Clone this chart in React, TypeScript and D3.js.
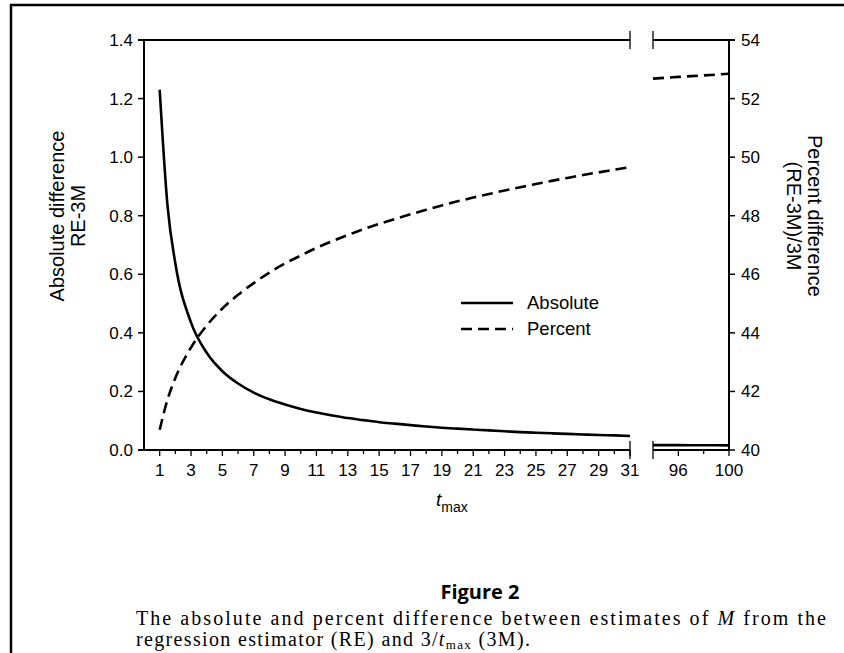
import React from "react";
import * as d3 from "d3";

// ---- data ----
const tmaxLeft = [1, 1.5, 2, 3, 4, 5, 6, 7, 8, 9, 10, 11, 12, 13, 14, 15, 16, 17, 18, 19, 20, 21, 22, 23, 24, 25, 26, 27, 28, 29, 30, 31];
const absLeft = [1.23, 0.834, 0.637, 0.435, 0.332, 0.269, 0.227, 0.196, 0.173, 0.155, 0.14, 0.128, 0.118, 0.109, 0.102, 0.095, 0.09, 0.085, 0.08, 0.076, 0.073, 0.07, 0.067, 0.064, 0.061, 0.059, 0.057, 0.055, 0.053, 0.051, 0.05, 0.048];
const pctLeft = [40.69, 41.72, 42.46, 43.5, 44.25, 44.83, 45.3, 45.7, 46.06, 46.37, 46.64, 46.9, 47.13, 47.34, 47.54, 47.72, 47.89, 48.05, 48.2, 48.35, 48.49, 48.62, 48.74, 48.86, 48.97, 49.08, 49.19, 49.29, 49.39, 49.48, 49.57, 49.66];
const tmaxRight = [94, 96, 98, 100];
const absRight = [0.0168, 0.0165, 0.0162, 0.0159];
const pctRight = [52.68, 52.74, 52.79, 52.85];

const xTicksLeft = [1, 2, 3, 4, 5, 6, 7, 8, 9, 10, 11, 12, 13, 14, 15, 16, 17, 18, 19, 20, 21, 22, 23, 24, 25, 26, 27, 28, 29, 30, 31];
const xLabelsLeft = [1, 3, 5, 7, 9, 11, 13, 15, 17, 19, 21, 23, 25, 27, 29, 31];
const xTicksRight = [96, 98, 100];
const xLabelsRight = [96, 100];
const yLeftTicks = [0, 0.2, 0.4, 0.6, 0.8, 1.0, 1.2, 1.4];
const yRightTicks = [40, 42, 44, 46, 48, 50, 52, 54];

const W = 844;
const H = 653;
const L = 144, R = 729, T = 40, B = 450;
const BREAK1 = 630, BREAK2 = 653;

const sans = "'Liberation Sans', Arial, Helvetica, sans-serif";
const serif = "'Liberation Serif', 'DejaVu Serif', serif";
const TICK_FS = 17;

export default function App() {
  const xL = d3.scaleLinear().domain([0, 31]).range([L, BREAK1]);
  const xR = d3.scaleLinear().domain([94, 100]).range([BREAK2, R]);
  const yL = d3.scaleLinear().domain([0, 1.4]).range([B, T]);
  const yR = d3.scaleLinear().domain([40, 54]).range([B, T]);

  const lineAbsL = d3.line<number>().x((_, i) => xL(tmaxLeft[i])).y((d) => yL(d)).curve(d3.curveMonotoneX);
  const linePctL = d3.line<number>().x((_, i) => xL(tmaxLeft[i])).y((d) => yR(d)).curve(d3.curveMonotoneX);
  const lineAbsR = d3.line<number>().x((_, i) => xR(tmaxRight[i])).y((d) => yL(d)).curve(d3.curveMonotoneX);
  const linePctR = d3.line<number>().x((_, i) => xR(tmaxRight[i])).y((d) => yR(d)).curve(d3.curveMonotoneX);

  const ax = { stroke: "#000", strokeWidth: 2, fill: "none" } as const;
  const dash = "11 6";

  return (
    <svg width={W} height={H} style={{ position: "absolute", left: 0, top: 0, background: "#fff" }}>
      {/* frame */}
      <path d={`M11,${H} L11,5 L${W},5`} stroke="#000" strokeWidth={2.5} fill="none" />

      {/* axes */}
      <line x1={L} y1={T} x2={L} y2={B} {...ax} />
      <line x1={R} y1={T} x2={R} y2={B} {...ax} />
      <line x1={L - 6} y1={B} x2={BREAK1} y2={B} {...ax} />
      <line x1={BREAK2} y1={B} x2={R} y2={B} {...ax} />
      <line x1={L - 6} y1={T} x2={BREAK1} y2={T} {...ax} />
      <line x1={BREAK2} y1={T} x2={R + 6} y2={T} {...ax} />
      {[BREAK1, BREAK2].map((bx) => (
        <g key={bx}>
          <line x1={bx} y1={T - 9} x2={bx} y2={T + 9} stroke="#000" strokeWidth={1.3} />
          <line x1={bx} y1={B - 9} x2={bx} y2={B + 9} stroke="#000" strokeWidth={1.3} />
        </g>
      ))}

      {/* left y ticks */}
      {yLeftTicks.map((v) => (
        <g key={"yl" + v}>
          <line x1={L - 6} x2={L} y1={yL(v)} y2={yL(v)} stroke="#000" strokeWidth={1.5} />
          <text x={L - 11} y={yL(v)} dy="0.35em" textAnchor="end" fontFamily={sans} fontSize={TICK_FS}>
            {v.toFixed(1)}
          </text>
        </g>
      ))}
      {/* right y ticks */}
      {yRightTicks.map((v) => (
        <g key={"yr" + v}>
          <line x1={R} x2={R + 6} y1={yR(v)} y2={yR(v)} stroke="#000" strokeWidth={1.5} />
          <text x={R + 12} y={yR(v)} dy="0.35em" textAnchor="start" fontFamily={sans} fontSize={TICK_FS}>
            {v}
          </text>
        </g>
      ))}
      {/* x ticks */}
      {xTicksLeft.map((v) => (
        <line key={"xt" + v} x1={xL(v)} x2={xL(v)} y1={B} y2={B + (v % 2 === 1 ? 6 : 4)} stroke="#000" strokeWidth={1.3} />
      ))}
      {xTicksRight.map((v) => (
        <line key={"xtr" + v} x1={xR(v)} x2={xR(v)} y1={B} y2={B + (v % 4 === 0 ? 6 : 4)} stroke="#000" strokeWidth={1.3} />
      ))}
      {xLabelsLeft.map((v) => (
        <text key={"xl" + v} x={xL(v)} y={476} textAnchor="middle" fontFamily={sans} fontSize={TICK_FS}>
          {v}
        </text>
      ))}
      {xLabelsRight.map((v) => (
        <text key={"xlr" + v} x={xR(v)} y={476} textAnchor="middle" fontFamily={sans} fontSize={TICK_FS}>
          {v}
        </text>
      ))}

      {/* series */}
      <path d={lineAbsL(absLeft) || ""} stroke="#000" strokeWidth={2.6} fill="none" />
      <path d={linePctL(pctLeft) || ""} stroke="#000" strokeWidth={2.6} fill="none" strokeDasharray={dash} />
      <path d={lineAbsR(absRight) || ""} stroke="#000" strokeWidth={2.6} fill="none" />
      <path d={linePctR(pctRight) || ""} stroke="#000" strokeWidth={2.6} fill="none" strokeDasharray={dash} />

      {/* legend */}
      <line x1={461} x2={513} y1={303} y2={303} stroke="#000" strokeWidth={2.6} />
      <line x1={461} x2={513} y1={329} y2={329} stroke="#000" strokeWidth={2.6} strokeDasharray="11 6" />
      <text x={527} y={303} dy="0.35em" fontFamily={sans} fontSize={18.5}>Absolute</text>
      <text x={527} y={329} dy="0.35em" fontFamily={sans} fontSize={18.5}>Percent</text>

      {/* axis titles */}
      <g transform="translate(64,216) rotate(-90)">
        <text x={0} y={0} textAnchor="middle" fontFamily={sans} fontSize={20}>Absolute difference</text>
        <text x={0} y={21} textAnchor="middle" fontFamily={sans} fontSize={20}>RE-3M</text>
      </g>
      <g transform="translate(808,216) rotate(90)">
        <text x={0} y={0} textAnchor="middle" fontFamily={sans} fontSize={20}>Percent difference</text>
        <text x={0} y={21} textAnchor="middle" fontFamily={sans} fontSize={20}>(RE-3M)/3M</text>
      </g>
      <text x={436} y={506} fontFamily={sans} fontSize={19} fontStyle="italic">
        t<tspan fontStyle="normal" fontSize={14} dy={6}>max</tspan>
      </text>

      {/* caption */}
      <text x={480} y={599} textAnchor="middle" fontFamily="'Open Sans', 'Noto Sans', sans-serif" fontWeight="bold" fontSize={20}>
        Figure 2
      </text>
      <text x={136} y={625} fontFamily={serif} fontSize={20} textLength={690} lengthAdjust="spacing">
        The absolute and percent difference between estimates of <tspan fontStyle="italic">M</tspan> from the
      </text>
      <text x={136} y={646} fontFamily={serif} fontSize={20} textLength={394} lengthAdjust="spacing">
        regression estimator (RE) and 3/<tspan fontStyle="italic">t</tspan>
        <tspan fontSize={13} dy={3}>max</tspan>
        <tspan dy={-3}> (3M).</tspan>
      </text>
    </svg>
  );
}
